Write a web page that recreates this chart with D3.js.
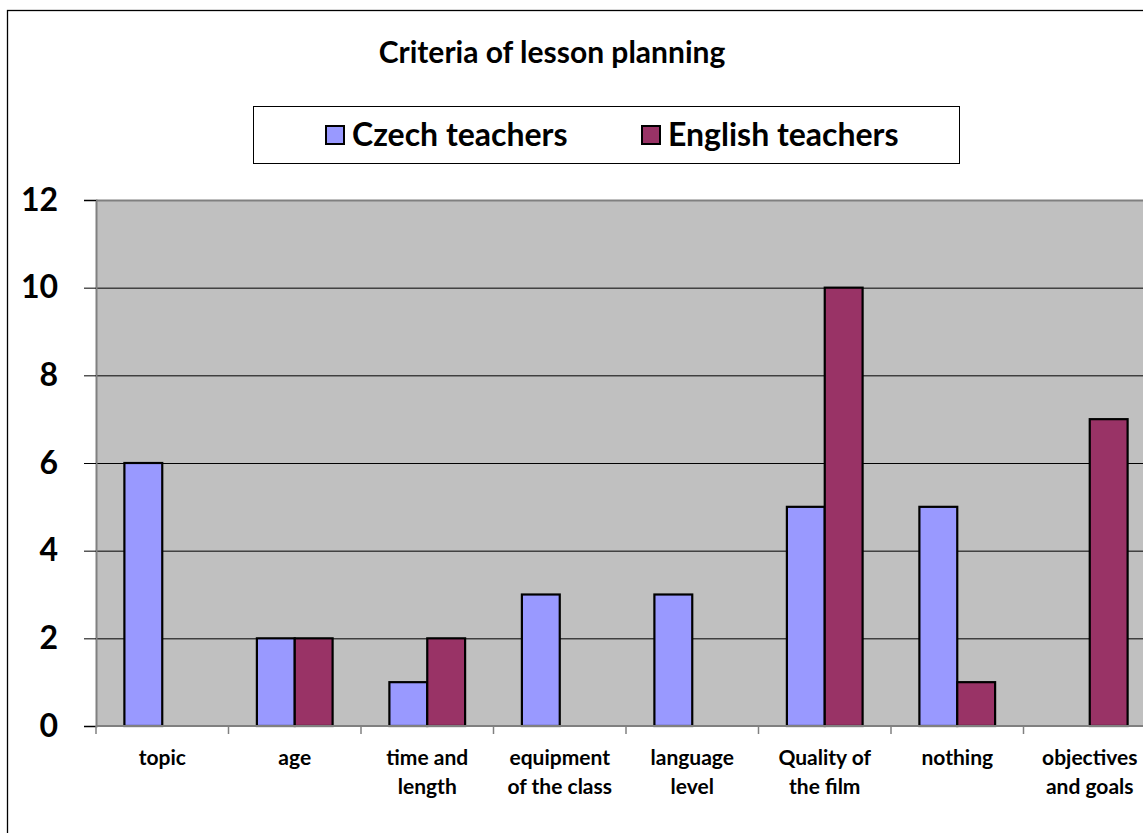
<!DOCTYPE html>
<html>
<head>
<meta charset="utf-8">
<script src="https://cdn.jsdelivr.net/npm/d3@7"></script>
<style>
body { margin: 0; background: #fff; }
text { font-family: Lato, "Open Sans", sans-serif; font-weight: bold; }
</style>
</head>
<body>
<div id="chart1"></div>
<script>
// Chart data
var categories = [["topic"], ["age"], ["time and", "length"], ["equipment", "of the class"],
	["language", "level"], ["Quality of", "the film"], ["nothing"], ["objectives", "and goals"]];
var seriesNames = ["Czech teachers", "English teachers"];
var czech = [6, 2, 1, 3, 3, 5, 5, 0];
var english = [0, 2, 2, 0, 0, 10, 1, 7];
var yTicks = [0, 2, 4, 6, 8, 10, 12];
var colors = ["#9999ff", "#993366"];

var cfg = {
	width: 1143,
	height: 833,
	left: 96,
	top: 200,
	bottom: 726,
	band: 132.5
};

var svg = d3.select("#chart1").append("svg")
	.attr("width", cfg.width)
	.attr("height", cfg.height);

// outer chart frame (runs off the picture to the right and bottom)
svg.append("rect")
	.attr("x", 7.5).attr("y", 10.5)
	.attr("width", 1300).attr("height", 1000)
	.attr("fill", "#fff").attr("stroke", "#000").attr("stroke-width", 1.3);

var idx = d3.range(categories.length);
var x = d3.scaleBand()
	.domain(idx)
	.range([cfg.left, cfg.left + cfg.band * categories.length]);
// two bars per category, gap width 150%
var xs = d3.scaleBand()
	.domain([0, 1])
	.range([x.bandwidth() * 0.75 / 3.5, x.bandwidth() * (1 - 0.75 / 3.5)]);
var y = d3.scaleLinear().domain([0, 12]).range([cfg.bottom, cfg.top]);

// plot area
svg.append("rect")
	.attr("x", cfg.left).attr("y", cfg.top)
	.attr("width", cfg.band * categories.length).attr("height", cfg.bottom - cfg.top)
	.attr("fill", "#c0c0c0");

// gridlines
svg.append("g").selectAll("line")
	.data(yTicks.filter(function(d){ return d > 0 && d < 12; }))
	.enter().append("line")
	.attr("x1", cfg.left).attr("x2", cfg.width)
	.attr("y1", function(d){ return y(d) + 0.5; })
	.attr("y2", function(d){ return y(d) + 0.5; })
	.attr("stroke", "#000").attr("stroke-width", 1);

// top border of plot area
svg.append("line")
	.attr("x1", cfg.left).attr("x2", cfg.width)
	.attr("y1", cfg.top + 0.5).attr("y2", cfg.top + 0.5)
	.attr("stroke", "#808080").attr("stroke-width", 2);

// bars
svg.append("g").selectAll("g")
	.data(idx)
	.enter().append("g")
	.attr("transform", function(i){ return "translate(" + x(i) + ",0)"; })
	.each(function(i){
		var g = d3.select(this);
		[czech[i], english[i]].forEach(function(v, j){
			if (v <= 0) return;
			g.append("rect")
				.attr("x", xs(j))
				.attr("y", y(v))
				.attr("width", xs.bandwidth())
				.attr("height", y(0) - y(v))
				.attr("fill", colors[j])
				.attr("stroke", "#000").attr("stroke-width", 2.2);
		});
	});

// y axis
var yAxis = svg.append("g")
	.attr("transform", "translate(" + cfg.left + ",0)")
	.call(d3.axisLeft(y).tickValues(yTicks).tickSize(12).tickPadding(26));
yAxis.select(".domain").attr("stroke", "#808080").attr("stroke-width", 2);
yAxis.selectAll(".tick line").attr("stroke", "#000");
yAxis.selectAll(".tick text")
	.attr("font-size", 32).attr("fill", "#000")
	.attr("font-family", "Lato, sans-serif");

// x axis
var xAxis = svg.append("g")
	.attr("transform", "translate(0," + cfg.bottom + ")");
xAxis.append("line")
	.attr("x1", cfg.left).attr("x2", cfg.width)
	.attr("y1", 0).attr("y2", 0)
	.attr("stroke", "#808080").attr("stroke-width", 2);
xAxis.selectAll(".xt")
	.data(d3.range(categories.length + 1))
	.enter().append("line")
	.attr("class", "xt")
	.attr("x1", function(i){ return cfg.left + cfg.band * i; })
	.attr("x2", function(i){ return cfg.left + cfg.band * i; })
	.attr("y1", 0).attr("y2", 8)
	.attr("stroke", "#808080").attr("stroke-width", 1.5);

xAxis.selectAll(".xl")
	.data(idx)
	.enter().append("text")
	.attr("class", "xl")
	.attr("text-anchor", "middle")
	.attr("font-size", 21)
	.attr("fill", "#000")
	.each(function(i){
		var t = d3.select(this);
		categories[i].forEach(function(line, k){
			t.append("tspan")
				.attr("x", x(i) + x.bandwidth() / 2)
				.attr("y", 39 + k * 29)
				.text(line);
		});
	});

// title
svg.append("text")
	.attr("x", 552).attr("y", 63)
	.attr("text-anchor", "middle")
	.attr("font-size", 30)
	.text("Criteria of lesson planning");

// legend
var legend = svg.append("g");
legend.append("rect")
	.attr("x", 253.5).attr("y", 106.5)
	.attr("width", 706).attr("height", 57)
	.attr("fill", "#fff").attr("stroke", "#000").attr("stroke-width", 1);
var legendX = [326, 642];
seriesNames.forEach(function(name, j){
	legend.append("rect")
		.attr("x", legendX[j]).attr("y", 126)
		.attr("width", 18).attr("height", 18)
		.attr("fill", colors[j]).attr("stroke", "#000").attr("stroke-width", 2);
	legend.append("text")
		.attr("x", legendX[j] + 26).attr("y", 146)
		.attr("font-size", 32)
		.text(name);
});
</script>
</body>
</html>
